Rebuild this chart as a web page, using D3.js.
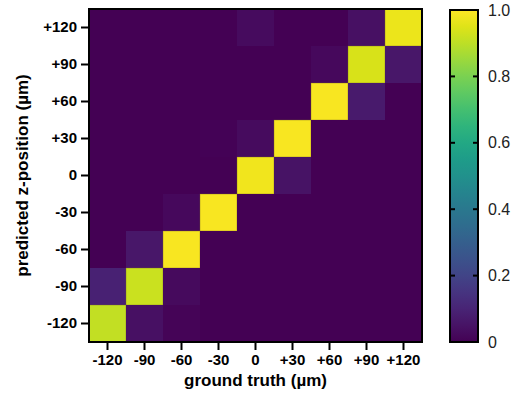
<!DOCTYPE html>
<html><head><meta charset="utf-8">
<script src="https://cdn.jsdelivr.net/npm/d3@7"></script>
<style>body{margin:0;background:#fff;} svg{display:block;}</style>
</head><body>
<svg id="chart" width="526" height="404"></svg>
<script>
const groundTruth = ["-120","-90","-60","-30","0","+30","+60","+90","+120"];
const predicted = ["+120","+90","+60","+30","0","-30","-60","-90","-120"]; // top to bottom
const row_p120 = [0,0,0,0,0.03,0,0,0.04,0.97];
const row_p90  = [0,0,0,0,0,0,0.02,0.94,0.06];
const row_p60  = [0,0,0,0,0,0,0.99,0.07,0];
const row_p30  = [0,0,0,0.005,0.03,0.99,0,0,0];
const row_0    = [0,0,0,0,0.98,0.05,0,0,0];
const row_m30  = [0,0,0.02,0.99,0,0,0,0,0];
const row_m60  = [0,0.06,0.99,0,0,0,0,0,0];
const row_m90  = [0.09,0.92,0.025,0,0,0,0,0,0];
const row_m120 = [0.91,0.04,0.01,0,0,0,0,0,0];
const rows = [row_p120,row_p90,row_p60,row_p30,row_0,row_m30,row_m60,row_m90,row_m120];
const colorTicks = [0,0.2,0.4,0.6,0.8,1.0];

const svg = d3.select("#chart");
const font = "'Liberation Sans', Arial, sans-serif";
const L = 89, T = 9, W = 333, H = 333;

const x = d3.scaleBand().domain(groundTruth).range([L, L+W]);
const y = d3.scaleBand().domain(predicted).range([T, T+H]);
const color = d3.scaleSequential(d3.interpolateViridis).domain([0,1]);

const cells = [];
rows.forEach((r,i)=>r.forEach((v,j)=>cells.push({p:predicted[i], g:groundTruth[j], v})));

svg.append("g").selectAll("rect").data(cells).join("rect")
  .attr("x", d=>x(d.g)).attr("y", d=>y(d.p))
  .attr("width", x.bandwidth()).attr("height", y.bandwidth())
  .attr("fill", d=>color(d.v))
  .attr("stroke", d=>d.v>0.5 ? "rgba(120,100,40,0.6)" : "none")
  .attr("stroke-width", 0.6);

svg.append("rect").attr("x",L).attr("y",T).attr("width",W).attr("height",H)
  .attr("fill","none").attr("stroke","#000").attr("stroke-width",2);

const xAxis = svg.append("g").attr("transform",`translate(0,${T+H+1})`)
  .call(d3.axisBottom(x).tickSize(7).tickPadding(4));
const yAxis = svg.append("g").attr("transform",`translate(${L-1},0)`)
  .call(d3.axisLeft(y).tickSize(7).tickPadding(4));
[xAxis,yAxis].forEach(a=>{
  a.select(".domain").remove();
  a.selectAll(".tick line").attr("stroke","#000").attr("stroke-width",2);
  a.selectAll(".tick text").attr("font-family",font).attr("font-weight","bold")
    .attr("font-size","15px").attr("fill","#000");
});

svg.append("text").attr("x", L+W/2).attr("y", 386).attr("text-anchor","middle")
  .attr("font-family",font).attr("font-weight","bold").attr("font-size","17px")
  .text("ground truth (µm)");
svg.append("text").attr("transform",`translate(28,${T+H/2}) rotate(-90)`)
  .attr("text-anchor","middle")
  .attr("font-family",font).attr("font-weight","bold").attr("font-size","17px")
  .text("predicted z-position (µm)");

// colorbar
const cbX = 450, cbY = 10, cbW = 28, cbH = 332;
const defs = svg.append("defs");
const grad = defs.append("linearGradient").attr("id","cbgrad")
  .attr("x1","0").attr("y1","1").attr("x2","0").attr("y2","0");
d3.range(0,1.0001,0.05).forEach(t=>grad.append("stop")
  .attr("offset",t).attr("stop-color",color(t)));
svg.append("rect").attr("x",cbX).attr("y",cbY).attr("width",cbW).attr("height",cbH)
  .attr("fill","url(#cbgrad)").attr("stroke","#000").attr("stroke-width",2);
const cy = d3.scaleLinear().domain([0,1]).range([cbY+cbH, cbY]);
const cbTicks = svg.append("g");
colorTicks.filter(t=>t>0 && t<1).forEach(t=>{
  cbTicks.append("line").attr("x1",cbX).attr("x2",cbX+5).attr("y1",cy(t)).attr("y2",cy(t))
    .attr("stroke","#000").attr("stroke-width",2);
  cbTicks.append("line").attr("x1",cbX+cbW-5).attr("x2",cbX+cbW).attr("y1",cy(t)).attr("y2",cy(t))
    .attr("stroke","#000").attr("stroke-width",2);
});
svg.append("g").selectAll("text").data(colorTicks).join("text")
  .attr("x", 488).attr("y", d=>cy(d)).attr("dy","0.35em")
  .attr("font-family",font).attr("font-size","16px").attr("fill","#222")
  .text(d=> d===0 ? "0" : d.toFixed(1));
</script>
</body></html>
